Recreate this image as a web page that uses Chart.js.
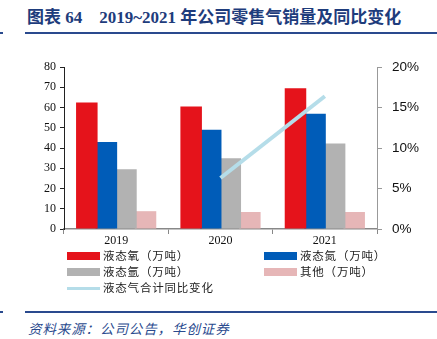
<!DOCTYPE html>
<html><head><meta charset="utf-8">
<script src="https://cdn.jsdelivr.net/npm/chart.js@4"></script>
<style>
body{margin:0;width:437px;height:339px;background:#fff;position:relative;overflow:hidden;font-family:"Noto Sans CJK SC",sans-serif;}
#title{position:absolute;left:27px;top:8px;font-size:17px;font-weight:bold;color:#1e3c7c;white-space:nowrap;font-family:"Liberation Serif","Noto Sans CJK SC",serif;line-height:20px;}
.rule{position:absolute;height:2px;background:#2a4a8e;}
#src{position:absolute;left:28px;top:319px;font-size:13.5px;letter-spacing:0.9px;font-style:italic;color:#2a4a8e;white-space:nowrap;line-height:18px;}
#wrap{position:absolute;left:0;top:49px;width:437px;height:206px;}
.lg{position:absolute;font-size:11.5px;letter-spacing:0.8px;color:#222;white-space:nowrap;line-height:14px;}
.sw{position:absolute;}
</style></head><body>
<div id="title">图表 64&nbsp;&nbsp;&nbsp;&nbsp;2019~2021 年公司零售气销量及同比变化</div>
<div class="rule" style="left:25px;top:32px;width:412px;"></div>
<div class="rule" style="left:0;top:32px;width:3px;"></div>
<div id="wrap"><canvas id="c" width="437" height="206"></canvas></div>
<div id="legend"></div>
<div class="rule" style="left:25px;top:311px;width:412px;"></div>
<div class="rule" style="left:0;top:311px;width:3px;"></div>
<div id="src">资料来源：公司公告，华创证券</div>
<script>
const categories = ['2019','2020','2021'];
const oxygen = [62.5, 60.5, 69.5];
const nitrogen = [43, 49, 57];
const argon = [29.5, 35, 42.3];
const others = [8.8, 8.4, 8.4];
const yoyPct = [null, 6.3, 16.4];
const leftTicks = [0,10,20,30,40,50,60,70,80];
const rightTicks = ['0%','5%','10%','15%','20%'];

const names = ['液态氧（万吨）','液态氮（万吨）','液态氩（万吨）','其他（万吨）','液态气合计同比变化'];
const colors = ['#e5131b','#005cb8','#b2b2b2','#e6b6b7','#b5dde9'];

// legend
const lgPos = [[67,256,'box'],[264,256,'box'],[67,272,'box'],[264,272,'box'],[67,288,'line']];
const lg = document.getElementById('legend');
names.forEach((n,i)=>{
  const [x,y,t] = lgPos[i];
  const s = document.createElement('div'); s.className='sw';
  s.style.left = x+'px'; s.style.width='33px'; s.style.background=colors[i];
  if(t==='box'){s.style.top=(y-4)+'px'; s.style.height='8px';}
  else {s.style.top=(y-1.5)+'px'; s.style.height='3px';}
  lg.appendChild(s);
  const d = document.createElement('div'); d.className='lg';
  d.style.left=(x+36)+'px'; d.style.top=(y-8)+'px'; d.textContent=n;
  lg.appendChild(d);
});

const barCommon = {categoryPercentage:0.75, barPercentage:1.1, yAxisID:'y', order:1};
new Chart(document.getElementById('c'), {
  data:{
    labels:categories,
    datasets:[
      Object.assign({type:'bar',label:names[0],data:oxygen,backgroundColor:colors[0]},barCommon),
      Object.assign({type:'bar',label:names[1],data:nitrogen,backgroundColor:colors[1]},barCommon),
      Object.assign({type:'bar',label:names[2],data:argon,backgroundColor:colors[2]},barCommon),
      Object.assign({type:'bar',label:names[3],data:others,backgroundColor:colors[3]},barCommon),
      {type:'line',label:names[4],data:yoyPct,yAxisID:'y1',borderColor:colors[4],borderWidth:4,pointRadius:0,spanGaps:false,order:0,tension:0}
    ]
  },
  options:{
    responsive:false,animation:false,
    layout:{padding:{top:6,left:0,right:0,bottom:0}},
    plugins:{legend:{display:false},tooltip:{enabled:false}},
    scales:{
      x:{
        offset:true,
        grid:{display:true,offset:true,drawOnChartArea:false,drawTicks:true,tickLength:5,color:'#888'},
        border:{display:true,color:'#888',width:1.5},
        ticks:{color:'#111',font:{family:'Liberation Serif',size:12},padding:0},
        afterFit(s){s.height=26;}
      },
      y:{
        position:'left',min:0,max:80,
        afterBuildTicks(s){s.ticks=leftTicks.map(v=>({value:v}));},
        grid:{display:true,drawOnChartArea:false,drawTicks:true,tickLength:4,color:'#222'},
        border:{display:true,color:'#222',width:1},
        ticks:{color:'#111',font:{family:'Liberation Serif',size:12},padding:4},
        afterFit(s){s.width=64;}
      },
      y1:{
        position:'right',min:0,max:20,
        afterBuildTicks(s){s.ticks=[0,5,10,15,20].map(v=>({value:v}));},
        grid:{display:true,drawOnChartArea:false,drawTicks:true,tickLength:5,color:'#999'},
        border:{display:true,color:'#999',width:1},
        ticks:{color:'#111',font:{family:'Liberation Sans',size:13.5},padding:10,
          callback:(v,i)=>rightTicks[i]},
        afterFit(s){s.width=60;}
      }
    }
  }
});
</script>
</body></html>
